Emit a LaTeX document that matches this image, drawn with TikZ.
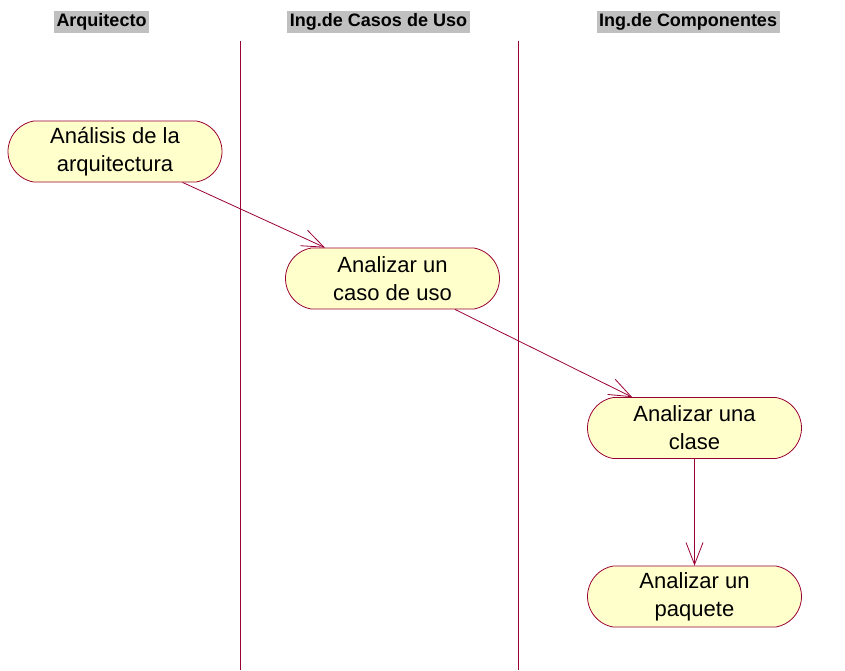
\documentclass[tikz,border=0pt]{standalone}
\usepackage{fontspec}
\setmainfont{Liberation Sans}
\usetikzlibrary{shapes, shapes.misc, arrows.meta, positioning}
\definecolor{rosered}{HTML}{990033}
\definecolor{roseyellow}{HTML}{FFFFCC}
\definecolor{lanegray}{HTML}{C0C0C0}
\tikzstyle{act}=[rounded rectangle, rounded rectangle arc length=160,
    draw=rosered, fill=roseyellow, line width=0.8pt, align=center,
    minimum width=214pt, minimum height=61pt, inner sep=0pt,
    font=\fontsize{22}{28}\selectfont]
\tikzstyle{lane}=[fill=lanegray, inner sep=2.5pt,
    font=\fontsize{18}{20}\selectfont\bfseries]
\tikzstyle{flow}=[draw=rosered, line width=0.8pt, ->]
\tikzstyle{sep}=[draw=rosered, line width=0.9pt]
\def\lanetop{41}

\begin{document}
\begin{tikzpicture}[x=1pt, y=-1pt, >={Straight Barb[length=22pt, width=17pt]}]
    \useasboundingbox (0,0) rectangle (845,670);
    \node (arq) [lane] at (101.5,22) {Arquitecto};
    \node (cas) [lane] at (378.5,22) {Ing.de Casos de Uso};
    \node (com) [lane] at (688,22) {Ing.de Componentes};
    \coordinate (l1) at (240,\lanetop);
    \coordinate (l2) at (518,\lanetop);
    \path [sep] (l1) -- (l1 |- 0,670);
    \path [sep] (l2) -- (l2 |- 0,670);
    \node (ana) [act] at (115,151.5) {Análisis de la\\arquitectura};
    \path (ana.center)+(277.5,127) node (caso) [act] {Analizar un\\caso de uso};
    \path (caso.center)+(302,149.5) node (clase) [act] {Analizar una\\clase};
    \path (clase.center)+(0,168.5) node (paq) [act] {Analizar un\\paquete};
    \draw [flow] (ana) -- (caso);
    \draw [flow] (caso) -- (clase);
    \draw [flow] (clase) -- (paq);
\end{tikzpicture}
\end{document}
